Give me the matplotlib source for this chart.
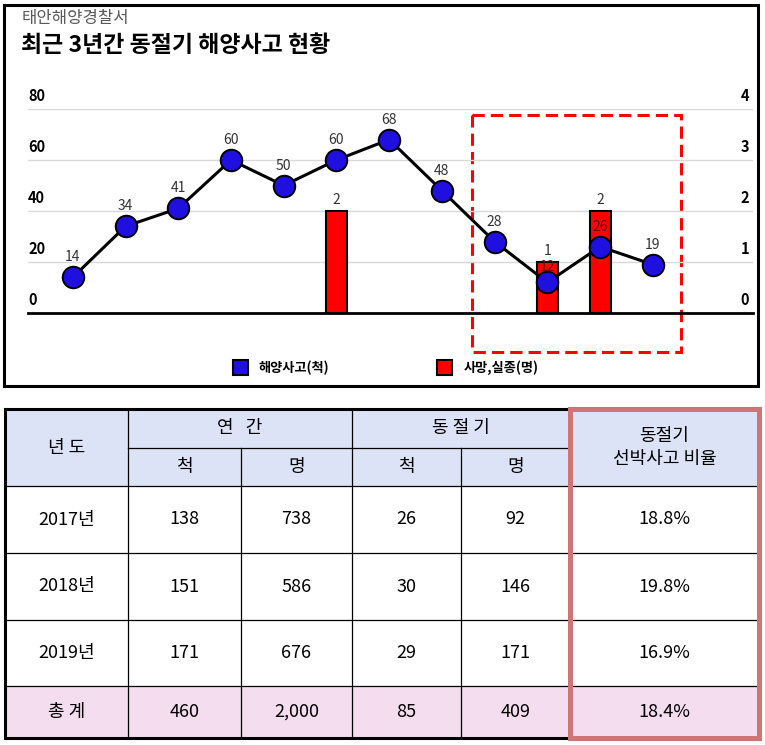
import matplotlib
matplotlib.use('Agg')
import matplotlib.pyplot as plt
from matplotlib.patches import Rectangle
from matplotlib import font_manager

KR = ['Noto Sans CJK KR', 'DejaVu Sans']
plt.rcParams['font.family'] = KR

# ---------------- data ----------------
subtitle = '태안해양경찰서'
title = '최근 3년간 동절기 해양사고 현황'
months = ['3월', '4월', '5월', '6월', '7월', '8월', '9월', '10월', '11월', '12월', '1월', '2월']
accidents = [14, 34, 41, 60, 50, 60, 68, 48, 28, 12, 26, 19]
casualties = [0, 0, 0, 0, 0, 2, 0, 0, 0, 1, 2, 0]
left_ticks = [0, 20, 40, 60, 80]
right_ticks = [0, 1, 2, 3, 4]
legend_labels = ['해양사고(척)', '사망,실종(명)']

header_top = ['년 도', '연   간', '동 절 기', '동절기\n선박사고 비율']
header_sub = ['척', '명', '척', '명']
years = ['2017년', '2018년', '2019년']
annual_ships = [138, 151, 171]
annual_people = [738, 586, 676]
winter_ships = [26, 30, 29]
winter_people = [92, 146, 171]
winter_ratio = ['18.8%', '19.8%', '16.9%']
total_label = '총 계'
total_values = ['460', '2,000', '85', '409', '18.4%']

# ---------------- figure ----------------
W, H = 765, 745
fig = plt.figure(figsize=(W / 100, H / 100), dpi=100)
fig.patch.set_facecolor('white')
bg = fig.add_axes([0, 0, 1, 1])
bg.set_xlim(0, W)
bg.set_ylim(H, 0)
bg.axis('off')

# chart frame and titles
bg.add_patch(Rectangle((4.5, 4.5), 754, 381, fill=False, edgecolor='black', lw=2.2))
bg.text(22, 19, subtitle, fontsize=12, color='#595959', ha='left', va='center')
bg.text(21, 46, title, fontsize=16.5, fontweight='bold', color='black', ha='left', va='center')

# ---------------- chart ----------------
BLUE = '#2010e0'
RED = '#ff0000'
x = list(range(len(months)))
AX_TOP, AX_BOT = 109, 313
ax = fig.add_axes([28 / W, 1 - AX_BOT / H, (753 - 28) / W, (AX_BOT - AX_TOP) / H])
ax2 = ax.twinx()
ax.set_zorder(ax2.get_zorder() + 1)
ax.patch.set_visible(False)

ax.set_xlim(-0.85, 12.9)
ax.set_ylim(0, 80)
ax2.set_ylim(0, 4)
scale = 80 / 4
px_per_unit = (AX_BOT - AX_TOP) / 80

for a in (ax, ax2):
    for s in a.spines.values():
        s.set_visible(False)
ax2.spines['bottom'].set_visible(True)
ax2.spines['bottom'].set_linewidth(2.0)
ax2.spines['bottom'].set_color('black')

ax2.set_yticks(right_ticks)
ax2.set_yticklabels([])
ax2.tick_params(axis='y', length=0)
ax2.grid(axis='y', color='#d9d9d9', lw=1.0)
ax2.set_axisbelow(True)
ax.set_yticks(left_ticks)
ax.set_yticklabels([])
ax.tick_params(axis='y', length=0)

ax.set_xticks(x)
ax.set_xticklabels(months, fontsize=10, fontweight='bold')
ax.tick_params(axis='x', length=0, pad=10.5)
ax2.set_xticks([])

# left / right tick labels placed above grid lines
for v in left_ticks:
    ax.annotate(str(v), (0, v), xycoords=ax.get_yaxis_transform(), xytext=(0, 5.5),
                textcoords='offset points', ha='left', va='baseline',
                fontsize=10.5, fontweight='bold')
for v in right_ticks:
    ax2.annotate(str(v), (0.989, v), xycoords=ax2.get_yaxis_transform(), xytext=(0, 5.5),
                 textcoords='offset points', ha='center', va='baseline',
                 fontsize=10.5, fontweight='bold')

# bars
bx = [i for i, v in enumerate(casualties) if v > 0]
bv = [v for v in casualties if v > 0]
ax2.bar(bx, bv, width=0.4, color=RED, edgecolor='black', linewidth=1.5, zorder=2)
for i, v in zip(bx, bv):
    ax2.annotate(str(v), (i, v), xytext=(0, 5), textcoords='offset points',
                 ha='center', va='baseline', fontsize=10, color='#333333')

# line
ax.plot(x, accidents, color='black', lw=2.2, marker='o', ms=15.5,
        markerfacecolor=BLUE, markeredgecolor='black', markeredgewidth=1.4,
        zorder=5, clip_on=False)
for i, v in enumerate(accidents):
    gap_px = (casualties[i] * scale - v) * px_per_unit
    over_bar = gap_px > 0
    c = '#6b0000' if over_bar else '#333333'
    off = 11.5
    if over_bar:
        off = min(off, (gap_px - 9) * 0.72)
    ax.annotate(str(v), (i, v), xytext=(0, off), textcoords='offset points',
                ha='center', va='baseline', fontsize=10, color=c, zorder=6)

# highlight box (winter period)
bg.add_patch(Rectangle((472, 115), 209, 237, fill=False, edgecolor=RED,
                       lw=2.2, linestyle=(0, (4, 2)), zorder=10))

# legend
for (lx, tx), lab, col in zip([(233, 258), (437, 464)], legend_labels, [BLUE, RED]):
    bg.add_patch(Rectangle((lx, 360), 15, 15, facecolor=col, edgecolor='black', lw=1.5))
    bg.text(tx, 367.5, lab, fontsize=9.5, fontweight='bold', ha='left', va='center')

# ---------------- table ----------------
names = {f.name for f in font_manager.fontManager.ttflist}
NUM = (['Liberation Sans Narrow'] if 'Liberation Sans Narrow' in names else []) + KR
num_size = 14 if 'Liberation Sans Narrow' in names else 13

xs = [5, 128, 241, 352, 461, 570, 759]
ys = [409, 448, 486, 553, 620, 686, 738]
HEAD = '#dde3f7'
TOT = '#f3ddee'
bg.add_patch(Rectangle((xs[0], ys[0]), xs[-1] - xs[0], ys[2] - ys[0], facecolor=HEAD, edgecolor='none'))
bg.add_patch(Rectangle((xs[0], ys[5]), xs[-1] - xs[0], ys[6] - ys[5], facecolor=TOT, edgecolor='none'))

lw_thin = 0.9
bg.plot([xs[1], xs[5]], [ys[1], ys[1]], color='black', lw=lw_thin)
for yy in ys[2:6]:
    bg.plot([xs[0], xs[6]], [yy, yy], color='black', lw=lw_thin)
for xx in (xs[1], xs[3]):
    bg.plot([xx, xx], [ys[0], ys[6]], color='black', lw=lw_thin)
for xx in (xs[2], xs[4]):
    bg.plot([xx, xx], [ys[1], ys[6]], color='black', lw=lw_thin)
bg.plot([xs[0], xs[0]], [ys[0], ys[6]], color='black', lw=2.2, solid_capstyle='projecting')
bg.plot([xs[0], xs[5]], [ys[0], ys[0]], color='black', lw=2.2, solid_capstyle='projecting')
bg.plot([xs[0], xs[5]], [ys[6], ys[6]], color='black', lw=2.2, solid_capstyle='projecting')
bg.add_patch(Rectangle((xs[5], ys[0]), xs[6] - xs[5], ys[6] - ys[0], fill=False,
                       edgecolor='#cf7575', lw=3.6, zorder=5))

def cx(a, b):
    return (xs[a] + xs[b]) / 2

def cy(a, b):
    return (ys[a] + ys[b]) / 2

hs = 13
bg.text(cx(0, 1), cy(0, 2), header_top[0], fontsize=hs, ha='center', va='center')
bg.text(cx(1, 3), cy(0, 1), header_top[1], fontsize=hs, ha='center', va='center')
bg.text(cx(3, 5), cy(0, 1), header_top[2], fontsize=hs, ha='center', va='center')
bg.text(cx(5, 6), cy(0, 2), header_top[3], fontsize=hs, ha='center', va='center', linespacing=1.3)
for k, lab in enumerate(header_sub):
    bg.text(cx(1 + k, 2 + k), cy(1, 2), lab, fontsize=hs, ha='center', va='center')

for r in range(len(years)):
    row = [years[r], str(annual_ships[r]), str(annual_people[r]), str(winter_ships[r]),
           str(winter_people[r]), winter_ratio[r]]
    for c, val in enumerate(row):
        bg.text(cx(c, c + 1), cy(2 + r, 3 + r), val, fontsize=num_size, family=NUM,
                ha='center', va='center')

bg.text(cx(0, 1), cy(5, 6), total_label, fontsize=hs, ha='center', va='center')
for c, val in enumerate(total_values):
    bg.text(cx(c + 1, c + 2), cy(5, 6), val, fontsize=num_size, family=NUM,
            ha='center', va='center')

fig.savefig('out.png', dpi=100, facecolor='white')
